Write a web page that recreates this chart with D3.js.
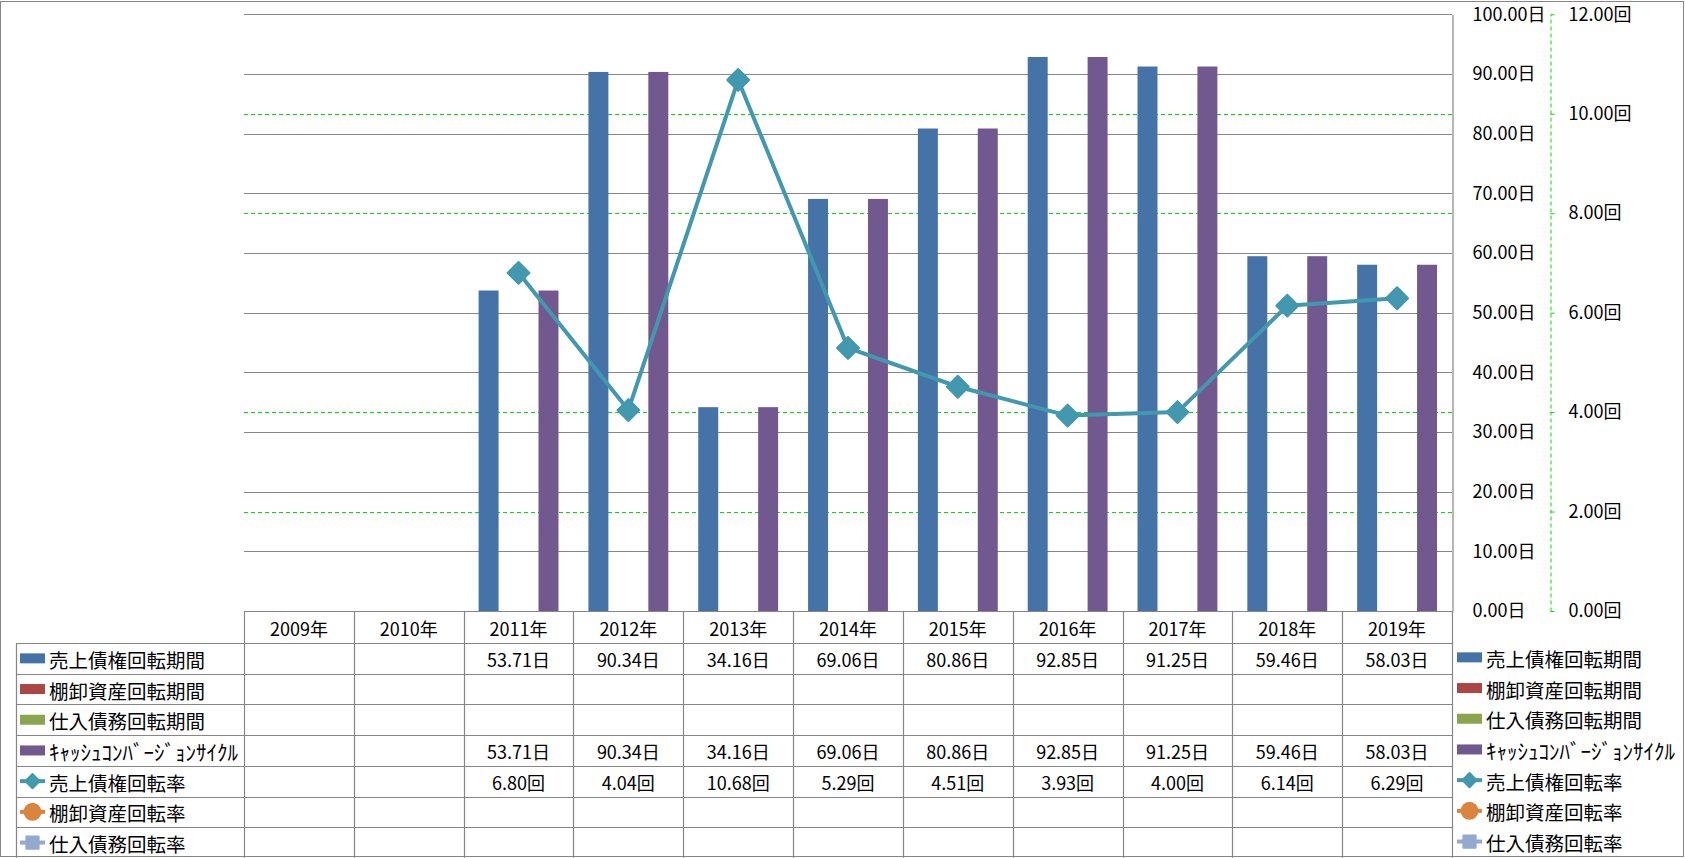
<!DOCTYPE html>
<html>
<head>
<meta charset="utf-8">
<script src="https://cdn.jsdelivr.net/npm/d3@7"></script>
<style>
  body { margin: 0; background: #fff; }
  svg text { font-family: "Meiryo UI", "Noto Sans CJK JP", sans-serif; fill: #000; }
</style>
</head>
<body>
<svg class="chart" width="1685" height="858"></svg>
<script>
const years = ["2009年", "2010年", "2011年", "2012年", "2013年", "2014年", "2015年", "2016年", "2017年", "2018年", "2019年"]

const seriesNames = ["売上債権回転期間", "棚卸資産回転期間", "仕入債務回転期間", "ｷｬｯｼｭｺﾝﾊﾞｰｼﾞｮﾝｻｲｸﾙ", "売上債権回転率", "棚卸資産回転率", "仕入債務回転率"]

// days (bars, left axis)
const receivableDays = [null, null, 53.71, 90.34, 34.16, 69.06, 80.86, 92.85, 91.25, 59.46, 58.03]
const inventoryDays = [null, null, null, null, null, null, null, null, null, null, null]
const payableDays = [null, null, null, null, null, null, null, null, null, null, null]
const cashCycleDays = [null, null, 53.71, 90.34, 34.16, 69.06, 80.86, 92.85, 91.25, 59.46, 58.03]

// turnover (lines, right axis)
const receivableTurnover = [null, null, 6.80, 4.04, 10.68, 5.29, 4.51, 3.93, 4.00, 6.14, 6.29]
const inventoryTurnover = [null, null, null, null, null, null, null, null, null, null, null]
const payableTurnover = [null, null, null, null, null, null, null, null, null, null, null]

const dayTicks = [0, 10, 20, 30, 40, 50, 60, 70, 80, 90, 100]
const timesTicks = [0, 2, 4, 6, 8, 10, 12]

var colors = ["#4572A7", "#AA4643", "#89A54E", "#71588F", "#4198AF", "#DB843D", "#93A9CF"]

var plot = {left: 244, right: 1452, top: 14.3, bottom: 611}
var rowH = 30.7
var fs = 18

var svg = d3.select(".chart")

var x = d3.scaleBand()
    .domain(years)
    .range([plot.left, plot.right])

var xInner = d3.scaleBand()
    .domain([0, 1, 2, 3])
    .range([0, x.bandwidth()])
    .paddingInner(0)
    .paddingOuter(0.75)

var y = d3.scaleLinear()
    .domain([0, 100])
    .range([plot.bottom, plot.top])

var y2 = d3.scaleLinear()
    .domain([0, 12])
    .range([plot.bottom, plot.top])

// outer frame
svg.append("rect")
    .attr("x", 0.5).attr("y", 1.5)
    .attr("width", 1683).attr("height", 855)
    .attr("fill", "#fff")
    .attr("stroke", "#868686")

// secondary gridlines (green dashed), under the gray ones
svg.append("g")
    .selectAll("line")
    .data(timesTicks.filter(d => d > 0))
    .enter().append("line")
    .attr("x1", plot.left).attr("x2", plot.right)
    .attr("y1", d => Math.round(y2(d)) + 0.5)
    .attr("y2", d => Math.round(y2(d)) + 0.5)
    .attr("stroke", "#00e000")
    .attr("stroke-dasharray", "4,3")

svg.append("g")
    .selectAll("line")
    .data(dayTicks.filter(d => d > 0))
    .enter().append("line")
    .attr("x1", plot.left).attr("x2", plot.right)
    .attr("y1", d => Math.round(y(d)) + 0.5)
    .attr("y2", d => Math.round(y(d)) + 0.5)
    .attr("stroke", "#868686")
    .attr("stroke-width", 1.2)

// bars
var barSeries = [receivableDays, inventoryDays, payableDays, cashCycleDays]

barSeries.forEach(function(vals, si) {
    svg.append("g")
        .attr("class", "bars-" + si)
        .attr("fill", colors[si])
        .selectAll("rect")
        .data(vals.map((v, i) => ({year: years[i], v: v})).filter(d => d.v != null))
        .enter().append("rect")
        .attr("x", d => x(d.year) + xInner(si))
        .attr("y", d => y(d.v))
        .attr("width", xInner.bandwidth())
        .attr("height", d => y(0) - y(d.v))
})

// primary axis (drawn at the right of the plot)
var axisLeftDays = svg.append("g")
    .attr("transform", `translate(${plot.right + 0.5},0)`)
    .call(d3.axisRight(y)
        .tickValues(dayTicks)
        .tickSize(0)
        .tickPadding(20)
        .tickFormat(d => d3.format(".2f")(d) + "日"))
axisLeftDays.select(".domain").attr("stroke", "#868686").attr("stroke-width", 1.2)
axisLeftDays.selectAll("text").attr("font-size", fs).attr("font-family", null)

// secondary axis
var axisTimes = svg.append("g")
    .attr("transform", "translate(1550.5,0)")
    .call(d3.axisRight(y2)
        .tickValues(timesTicks)
        .tickSize(4)
        .tickSizeOuter(0)
        .tickPadding(14)
        .tickFormat(d => d3.format(".2f")(d) + "回"))
axisTimes.select(".domain").attr("stroke", "#00e000").attr("stroke-dasharray", "4,3")
axisTimes.selectAll(".tick line").attr("stroke", "#00e000")
axisTimes.selectAll("text").attr("font-size", fs).attr("font-family", null)

// turnover line
var lineData = receivableTurnover.map((v, i) => ({year: years[i], v: v})).filter(d => d.v != null)

var line = d3.line()
    .x(d => x(d.year) + x.bandwidth() / 2)
    .y(d => y2(d.v))

svg.append("path")
    .datum(lineData)
    .attr("d", line)
    .attr("fill", "none")
    .attr("stroke", colors[4])
    .attr("stroke-width", 4)
    .attr("stroke-linejoin", "round")

svg.append("g")
    .selectAll("path")
    .data(lineData)
    .enter().append("path")
    .attr("d", d3.symbol(d3.symbolSquare, 240))
    .attr("transform", d => `translate(${x(d.year) + x.bandwidth() / 2},${y2(d.v)}) rotate(45)`)
    .attr("fill", colors[4])
    .attr("stroke", colors[4])
    .attr("stroke-width", 2)
    .attr("stroke-linejoin", "round")

// data table
var tableTop = plot.bottom
var headerH = 32
var tableRows = [receivableDays, inventoryDays, payableDays, cashCycleDays, receivableTurnover, inventoryTurnover, payableTurnover]
var units = ["日", "日", "日", "日", "回", "回", "回"]
var rowY = i => tableTop + headerH + i * rowH
var tableBottom = rowY(tableRows.length)

var table = svg.append("g").attr("class", "data-table")

// horizontal rules
table.append("line")
    .attr("x1", plot.left).attr("x2", plot.right)
    .attr("y1", tableTop + 0.5).attr("y2", tableTop + 0.5)
    .attr("stroke", "#868686").attr("stroke-width", 1.2)

table.selectAll("line.row")
    .data(d3.range(tableRows.length + 1))
    .enter().append("line")
    .attr("class", "row")
    .attr("x1", 16).attr("x2", plot.right)
    .attr("y1", i => Math.round(rowY(i)) + 0.5)
    .attr("y2", i => Math.round(rowY(i)) + 0.5)
    .attr("stroke", "#868686").attr("stroke-width", 1.2)

// vertical rules
table.selectAll("line.col")
    .data(years.concat(["end"]))
    .enter().append("line")
    .attr("class", "col")
    .attr("x1", (d, i) => Math.round(plot.left + i * x.step()) + 0.5)
    .attr("x2", (d, i) => Math.round(plot.left + i * x.step()) + 0.5)
    .attr("y1", tableTop)
    .attr("y2", tableBottom)
    .attr("stroke", "#868686").attr("stroke-width", 1.2)

table.append("line")
    .attr("x1", 16.5).attr("x2", 16.5)
    .attr("y1", rowY(0)).attr("y2", tableBottom)
    .attr("stroke", "#868686").attr("stroke-width", 1.2)

// year header
table.selectAll("text.year")
    .data(years)
    .enter().append("text")
    .attr("class", "year")
    .attr("x", d => x(d) + x.bandwidth() / 2)
    .attr("y", tableTop + headerH / 2 + 1)
    .attr("text-anchor", "middle")
    .attr("dominant-baseline", "central")
    .attr("font-size", fs)
    .text(d => d)

// cell values
tableRows.forEach(function(vals, ri) {
    table.append("g")
        .selectAll("text")
        .data(vals.map((v, i) => ({year: years[i], v: v})).filter(d => d.v != null))
        .enter().append("text")
        .attr("x", d => x(d.year) + x.bandwidth() / 2)
        .attr("y", rowY(ri) + rowH / 2 + 1)
        .attr("text-anchor", "middle")
        .attr("dominant-baseline", "central")
        .attr("font-size", fs)
        .text(d => d3.format(".2f")(d.v) + units[ri])
})

// legend keys (inside table and on the right)
function drawKey(g, i, kx, ky) {
    if (i < 4) {
        g.append("rect")
            .attr("x", kx).attr("y", ky - 5)
            .attr("width", 25).attr("height", 10)
            .attr("fill", colors[i])
    } else {
        g.append("line")
            .attr("x1", kx).attr("x2", kx + 25)
            .attr("y1", ky).attr("y2", ky)
            .attr("stroke", colors[i]).attr("stroke-width", 4)
        var sym = i === 5 ? d3.symbolCircle : d3.symbolSquare
        g.append("path")
            .attr("d", d3.symbol(sym, i === 5 ? 200 : (i === 4 ? 100 : 150)))
            .attr("transform", `translate(${kx + 12.5},${ky})` + (i === 4 ? " rotate(45)" : ""))
            .attr("fill", colors[i])
            .attr("stroke", colors[i])
            .attr("stroke-width", 2)
            .attr("stroke-linejoin", "round")
    }
    g.append("text")
        .attr("x", kx + 29)
        .attr("y", ky + 1)
        .attr("dominant-baseline", "central")
        .attr("font-size", i === 3 ? 21 : 19.5)
        .text(seriesNames[i])
}

var legendLeft = svg.append("g").attr("class", "legend-table")
var legendRight = svg.append("g").attr("class", "legend")

seriesNames.forEach(function(name, i) {
    var cy = rowY(i) + rowH / 2
    drawKey(legendLeft, i, 20, cy)
    drawKey(legendRight, i, 1457, cy - 1)
})
</script>
</body>
</html>
